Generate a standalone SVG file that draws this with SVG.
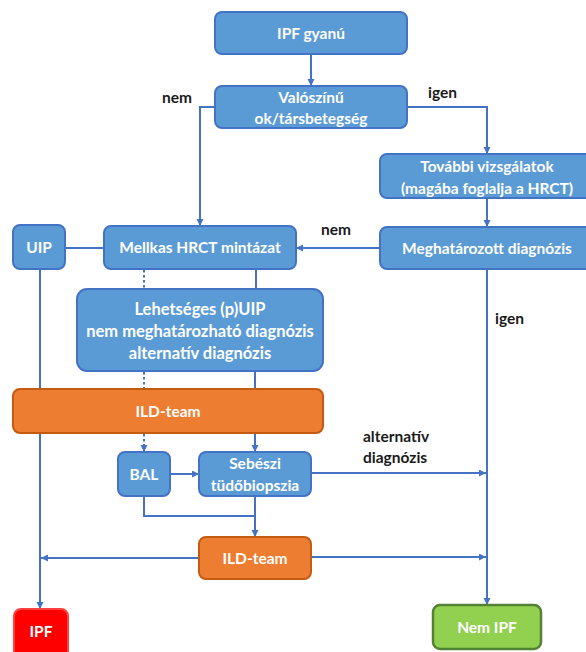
<svg xmlns="http://www.w3.org/2000/svg" width="586" height="652" viewBox="0 0 586 652">
<style>
  .box{fill:#5B9BD5;stroke:#4472C4;stroke-width:2}
  .org{fill:#ED7D31;stroke:#C55A11;stroke-width:2}
  .grn{fill:#92D050;stroke:#548235;stroke-width:2.5}
  .red{fill:#FF0000;stroke:#FF4040;stroke-width:2}
  .t{font-family:Lato,'Open Sans',sans-serif;font-weight:bold;font-size:15.5px;fill:#FFFFFF;text-anchor:middle;dominant-baseline:central}
  .big{font-size:16.5px}
  .l{font-family:Lato,'Open Sans',sans-serif;font-weight:bold;font-size:15.5px;fill:#1a1a1a;dominant-baseline:central}
  .c{fill:none;stroke:#4472C4;stroke-width:2}
  .a{marker-end:url(#arr)}
  .d{stroke-dasharray:2.5 2.5}
</style>
<defs>
  <marker id="arr" markerUnits="userSpaceOnUse" markerWidth="8" markerHeight="8" refX="7" refY="3.5" orient="auto">
    <path d="M0,0 L7,3.5 L0,7 z" fill="#4472C4"/>
  </marker>
</defs>
<g id="connectors">
  <path class="c a" d="M311,54 V86"/>
  <path class="c a" d="M215,107 H200 V226"/>
  <path class="c a" d="M407,107 H487 V154"/>
  <path class="c a" d="M487,198 V227"/>
  <path class="c a" d="M380,248 H296"/>
  <path class="c a" d="M487,269 V605"/>
  <path class="c" d="M65,248 H104"/>
  <path class="c a" d="M40,269 V609"/>
  <path class="c d" d="M144,270 V289"/>
  <path class="c" d="M256,269 V289"/>
  <path class="c d" d="M144,372 V389"/>
  <path class="c" d="M255,371 V389"/>
  <path class="c d a" d="M144,434 V452"/>
  <path class="c a" d="M255,433 V452"/>
  <path class="c a" d="M170,474 H199"/>
  <path class="c" d="M144,496 V516 H255"/>
  <path class="c a" d="M255,496 V537"/>
  <path class="c a" d="M311,473 H486"/>
  <path class="c a" d="M199,558 H41"/>
  <path class="c a" d="M311,557 H486"/>
</g>
<g id="n-ipf-gyanu"><rect class="box" x="215" y="12" width="192" height="42" rx="7"/><text class="t" x="311" y="33">IPF gyanú</text></g>
<g id="n-valoszinu"><rect class="box" x="215" y="86" width="192" height="42" rx="7"/><text class="t" x="311" y="97">Valószínű</text><text class="t" x="311" y="118">ok/társbetegség</text></g>
<g id="n-tovabbi"><rect class="box" x="380" y="154" width="214" height="44" rx="7"/><text class="t" x="487" y="166">További vizsgálatok</text><text class="t" x="487" y="188">(magába foglalja a HRCT)</text></g>
<g id="n-meghatarozott"><rect class="box" x="380" y="227" width="214" height="42" rx="7"/><text class="t" x="487" y="248">Meghatározott diagnózis</text></g>
<g id="n-uip"><rect class="box" x="13" y="225" width="52" height="44" rx="7"/><text class="t" x="39" y="247">UIP</text></g>
<g id="n-mellkas"><rect class="box" x="104" y="226" width="192" height="43" rx="7"/><text class="t" x="200" y="247">Mellkas HRCT mintázat</text></g>
<g id="n-lehetseges"><rect class="box" x="77" y="289" width="246" height="82" rx="10"/><text class="t big" x="200" y="309">Lehetséges (p)UIP</text><text class="t big" x="200" y="331">nem meghatározható diagnózis</text><text class="t big" x="200" y="353">alternatív diagnózis</text></g>
<g id="n-ild1"><rect class="org" x="13" y="389" width="310" height="44" rx="7"/><text class="t" x="168" y="411">ILD-team</text></g>
<g id="n-bal"><rect class="box" x="118" y="452" width="52" height="44" rx="7"/><text class="t" x="144" y="474">BAL</text></g>
<g id="n-sebeszi"><rect class="box" x="199" y="452" width="112" height="44" rx="7"/><text class="t" x="255" y="463">Sebészi</text><text class="t" x="255" y="485">tüdőbiopszia</text></g>
<g id="n-ild2"><rect class="org" x="199" y="537" width="112" height="42" rx="7"/><text class="t" x="255" y="558">ILD-team</text></g>
<g id="n-ipf"><rect class="red" x="14" y="609" width="54" height="50" rx="7"/><text class="t" x="41" y="631">IPF</text></g>
<g id="n-nemipf"><rect class="grn" x="433" y="605" width="108" height="44" rx="7"/><text class="t" x="487" y="627">Nem IPF</text></g>
<g id="labels">
  <text class="l" x="162" y="97">nem</text>
  <text class="l" x="428" y="92">igen</text>
  <text class="l" x="321" y="229">nem</text>
  <text class="l" x="495" y="318">igen</text>
  <text class="l" x="363" y="436">alternatív</text>
  <text class="l" x="363" y="457">diagnózis</text>
</g>
</svg>
